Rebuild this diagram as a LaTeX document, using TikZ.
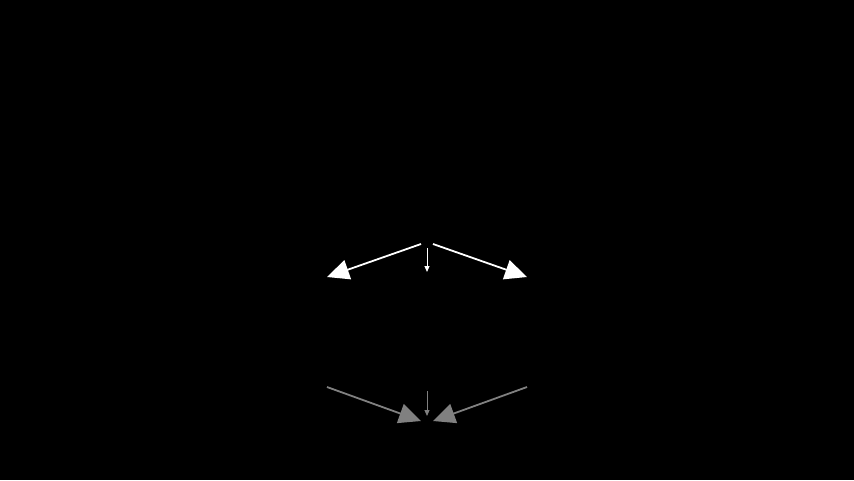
\documentclass[tikz,border=0pt]{standalone}
\usetikzlibrary{arrows.meta}
\begin{document}
\begin{tikzpicture}[x=1pt,y=-1pt,
  bigarrow/.style={line width=1.8pt,-{Triangle[length=22pt,width=20pt]}},
  smallarrow/.style={line width=1pt,-{Triangle[length=6pt,width=5pt]}},
  toparr/.style={draw=white,fill=white},
  botarr/.style={draw=gray,fill=gray}]
\fill[black] (0,0) rectangle (854,480);
\useasboundingbox (0,0) rectangle (854,480);
% top
\coordinate (tl) at (421,244);
\coordinate (tr) at (433,244);
\coordinate (tm) at (427,248);
\coordinate (L1) at (327,277);
\coordinate (R1) at (527,277);
\coordinate (M1) at (427,272);
\draw[bigarrow,toparr] (tl) -- (L1);
\draw[bigarrow,toparr] (tr) -- (R1);
\draw[smallarrow,toparr] (tm) -- (M1);
% bottom
\coordinate (L2) at (327,387);
\coordinate (R2) at (527,387);
\coordinate (M2) at (427,391);
\coordinate (bl) at (421,421);
\coordinate (br) at (433,421);
\coordinate (bm) at (427,416);
\draw[bigarrow,botarr] (L2) -- (bl);
\draw[bigarrow,botarr] (R2) -- (br);
\draw[smallarrow,botarr] (M2) -- (bm);
\end{tikzpicture}
\end{document}
